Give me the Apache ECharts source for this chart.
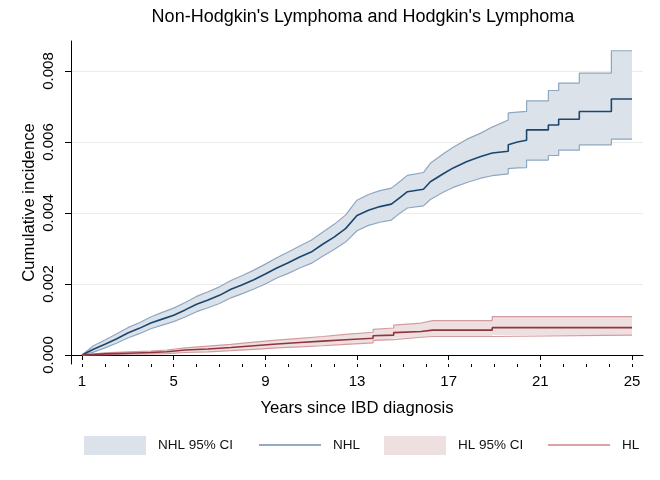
<!DOCTYPE html>
<html><head><meta charset="utf-8">
<script src="https://cdn.jsdelivr.net/npm/echarts@6/dist/echarts.min.js"></script>
<style>html,body{margin:0;padding:0;background:#fff}#c{width:660px;height:480px}</style>
</head><body><div id="c"></div>
<script>
const titleText = "Non-Hodgkin's Lymphoma and Hodgkin's Lymphoma";
const xName = 'Years since IBD diagnosis';
const yName = 'Cumulative incidence';
const yearTicks = [1, 5, 9, 13, 17, 21, 25];
const yearMinorTicks = [1,2,3,4,5,6,7,8,9,10,11,12,13,14,15,16,17,18,19,20,21,22,23,24,25];
const incTicks = [0, 0.002, 0.004, 0.006, 0.008];

const nhlYears = [1,1.5,2,2.5,3,3.5,4,4.5,5,5.5,6,6.5,7,7.5,8,8.5,9,9.5,10,10.5,11,11.5,12,12.5,13,13.5,14,14.5,14.9,15.2,15.9,16.2,16.8,17.2,17.8,18.4,18.9,19.6,19.6,20.0,20.4,20.4,21.35,21.35,21.8,21.8,22.7,22.7,24.1,24.1,25];
const nhlEst = [0,0.00016,0.0003,0.00045,0.00062,0.00075,0.0009,0.00101,0.00112,0.00127,0.00143,0.00155,0.00168,0.00185,0.00198,0.00212,0.00228,0.00245,0.0026,0.00276,0.0029,0.00312,0.00332,0.00356,0.00393,0.00408,0.00418,0.00425,0.00445,0.0046,0.00467,0.00488,0.00512,0.00527,0.00545,0.00559,0.00569,0.00574,0.00592,0.006,0.00605,0.00634,0.00634,0.00648,0.00648,0.00664,0.00664,0.00686,0.00686,0.00721,0.00721];
const nhlHi = [0,0.00026,0.00042,0.00059,0.00077,0.00091,0.00107,0.0012,0.00132,0.00148,0.00165,0.00178,0.00192,0.0021,0.00224,0.00239,0.00256,0.00274,0.0029,0.00307,0.00323,0.00346,0.00368,0.00394,0.00436,0.00452,0.00463,0.0047,0.0049,0.00506,0.00514,0.0054,0.00568,0.00585,0.00608,0.00625,0.00642,0.00662,0.00682,0.00684,0.00686,0.00716,0.00716,0.00745,0.00745,0.00766,0.00766,0.00794,0.00794,0.00857,0.00857];
const nhlLo = [0,0.00008,0.0002,0.00033,0.00048,0.0006,0.00074,0.00084,0.00094,0.00107,0.00122,0.00133,0.00145,0.00161,0.00173,0.00186,0.002,0.00217,0.0023,0.00245,0.00258,0.00278,0.00297,0.00318,0.0035,0.00365,0.00374,0.0038,0.00401,0.00414,0.0042,0.00438,0.0046,0.00472,0.00486,0.00498,0.00505,0.0051,0.00525,0.00527,0.00528,0.00549,0.00549,0.00562,0.00562,0.00577,0.00577,0.00592,0.00592,0.00608,0.00608];

const hlYears = [1,2,3,4,4.7,5.5,6.5,7.5,8.5,9.5,10.5,11.5,12.5,13.7,13.7,14.6,14.6,15.8,16.3,18.9,18.9,25];
const hlEst = [0,0.00003,0.00005,0.00007,0.00009,0.00014,0.00017,0.00021,0.00026,0.00031,0.00035,0.00039,0.00043,0.00047,0.00054,0.00056,0.00063,0.00066,0.0007,0.0007,0.00077,0.00077];
const hlLo = [0,0.00001,0.00002,0.00003,0.00004,0.00007,0.00009,0.00012,0.00016,0.0002,0.00023,0.00026,0.0003,0.00034,0.00041,0.00043,0.00048,0.0005,0.00052,0.00052,0.00056,0.00056];
const hlHi = [0,0.00006,0.00009,0.00011,0.00014,0.0002,0.00025,0.0003,0.00036,0.00042,0.00047,0.00052,0.00058,0.00064,0.00072,0.00076,0.00084,0.0009,0.00097,0.00097,0.00108,0.00108];

const FONT = "'Liberation Sans', Arial, Helvetica, sans-serif";
const C = {
  nhlFill: '#dce2ea', nhlBorder: '#8ea7c0', nhlLine: '#1a476f', nhlLegend: '#93acc6',
  hlFill: '#eedfe0', hlBorder: '#d39ca1', hlLine: '#90353b', hlLegend: '#d9a3a8',
  grid: '#ebebeb'
};

function pairs(xs, ys) { return xs.map((x, i) => [x, ys[i]]); }
function bandRender(xs, lo, hi, fill) {
  return function (params, api) {
    if (params.dataIndex !== 0) return null;
    const pts = [];
    for (let i = 0; i < xs.length; i++) pts.push(api.coord([xs[i], hi[i]]));
    for (let i = xs.length - 1; i >= 0; i--) pts.push(api.coord([xs[i], lo[i]]));
    return { type: 'polygon', shape: { points: pts }, style: { fill: fill } };
  };
}
function bandSeries(name, xs, lo, hi, fill, z) {
  return {
    type: 'custom', name: name, renderItem: bandRender(xs, lo, hi, fill),
    data: xs.map((x, i) => [x, lo[i], hi[i]]), encode: { x: 0, y: [1, 2] },
    itemStyle: { color: fill }, z: z, silent: true, animation: false
  };
}
function lineSeries(name, xs, ys, color, width, z) {
  return {
    type: 'line', name: name, data: pairs(xs, ys), symbol: 'none', showSymbol: false,
    lineStyle: { color: color, width: width }, itemStyle: { color: color },
    z: z, silent: true, animation: false
  };
}

const legendCommon = {
  orient: 'horizontal', padding: 0, itemWidth: 62, selectedMode: false,
  textStyle: { fontFamily: FONT, fontSize: 13.5, color: '#111', padding: [0, 0, 0, 7] }
};

const chart = echarts.init(document.getElementById('c'), null, { renderer: 'canvas' });
chart.setOption({
  backgroundColor: '#fff',
  animation: false,
  textStyle: { fontFamily: FONT },
  title: {
    text: titleText, left: 358, top: 3, textAlign: 'center',
    textStyle: { fontFamily: FONT, fontSize: 18, fontWeight: 'normal', color: '#000' }
  },
  grid: { left: 71, right: 17, top: 41, bottom: 116, containLabel: false },
  legend: [
    Object.assign({}, legendCommon, { left: 84, top: 436, itemHeight: 19, data: [{ name: 'NHL 95% CI', icon: 'rect', itemStyle: { color: C.nhlFill } }] }),
    Object.assign({}, legendCommon, { left: 259, top: 438, itemHeight: 2, data: [{ name: 'NHL', icon: 'rect', itemStyle: { color: C.nhlLegend } }] }),
    Object.assign({}, legendCommon, { left: 384, top: 436, itemHeight: 19, data: [{ name: 'HL 95% CI', icon: 'rect', itemStyle: { color: C.hlFill } }] }),
    Object.assign({}, legendCommon, { left: 548, top: 438, itemHeight: 2, data: [{ name: 'HL', icon: 'rect', itemStyle: { color: C.hlLegend } }] })
  ],
  xAxis: [
    {
      type: 'value', min: 0.52, max: 25.48, position: 'bottom',
      axisLine: { show: true, lineStyle: { color: '#000', width: 1 } },
      axisTick: { show: true, customValues: yearTicks, length: 5, lineStyle: { color: '#000', width: 1 } },
      axisLabel: { customValues: yearTicks, fontFamily: FONT, fontSize: 15, color: '#000', margin: 10 },
      splitLine: { show: false },
      name: xName, nameLocation: 'middle', nameGap: 36,
      nameTextStyle: { fontFamily: FONT, fontSize: 16.7, color: '#000' }
    },
    {
      type: 'value', min: 0.52, max: 25.48, position: 'bottom', offset: 0,
      axisLine: { show: false },
      axisTick: { show: true, customValues: yearMinorTicks, length: 3, lineStyle: { color: '#000', width: 1 } },
      axisLabel: { show: false }, splitLine: { show: false }
    }
  ],
  yAxis: {
    type: 'value', min: -0.000254, max: 0.008845,
    axisLine: { show: true, lineStyle: { color: '#000', width: 1 } },
    axisTick: { show: true, customValues: incTicks, length: 6, lineStyle: { color: '#000', width: 1 } },
    axisLabel: { customValues: incTicks, rotate: 90, fontFamily: FONT, fontSize: 15, color: '#000', margin: 15,
      formatter: v => Number(v).toFixed(3) },
    splitLine: { show: true, lineStyle: { color: C.grid, width: 1, type: 'solid' } },
    name: yName, nameLocation: 'middle', nameGap: 33, nameRotate: 90, nameMoveOverlap: false,
    nameTextStyle: { fontFamily: FONT, fontSize: 16.7, color: '#000' }
  },
  series: [
    bandSeries('NHL 95% CI', nhlYears, nhlLo, nhlHi, C.nhlFill, 2),
    lineSeries('nhl upper', nhlYears, nhlHi, C.nhlBorder, 1.2, 3),
    lineSeries('nhl lower', nhlYears, nhlLo, C.nhlBorder, 1.2, 3),
    lineSeries('NHL', nhlYears, nhlEst, C.nhlLine, 1.6, 4),
    bandSeries('HL 95% CI', hlYears, hlLo, hlHi, C.hlFill, 5),
    lineSeries('hl upper', hlYears, hlHi, C.hlBorder, 1.2, 6),
    lineSeries('hl lower', hlYears, hlLo, C.hlBorder, 1.2, 6),
    lineSeries('HL', hlYears, hlEst, C.hlLine, 1.6, 7)
  ]
});
</script>
</body></html>
